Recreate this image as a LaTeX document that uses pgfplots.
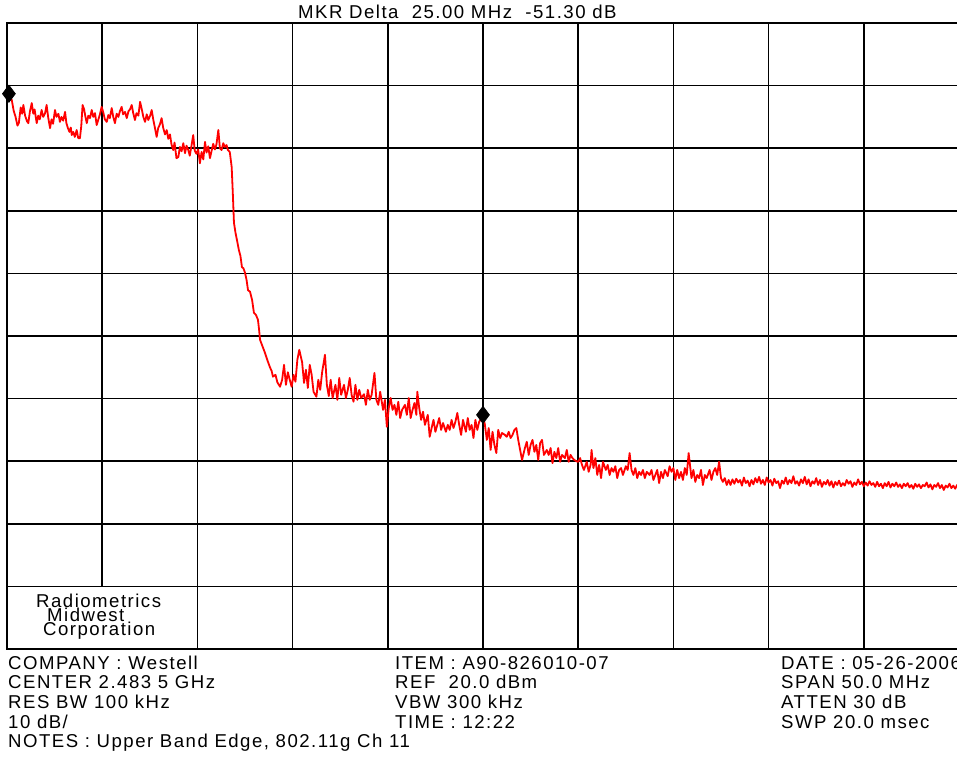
\documentclass[border=0pt]{standalone}
\usepackage{pgfplots}
\pgfplotsset{compat=1.18}
\usepackage{fontspec}
\setmainfont{Liberation Sans}[LetterSpace=8]
\begin{document}
\fontsize{18.6pt}{20pt}\selectfont
\begin{tikzpicture}
\useasboundingbox (0,0) rectangle (957pt,756pt);
\begin{axis}[at={(7pt,107pt)}, anchor=south west, scale only axis,
  width=952pt, height=626pt,
  xmin=0, xmax=50, ymin=-80, ymax=20,
  xtick={0,5,...,50}, ytick={-80,-70,...,20},
  xticklabels={}, yticklabels={},
  major tick length=0pt,
  grid=major, major grid style={black, line width=1.6pt},
  axis line style={black, line width=1.9pt},
  clip=false]
\addplot[red, line width=1.8pt, line join=round, mark=none] coordinates {
(0.1,8.7)(0.18,8.0)(0.25,7.7)(0.35,6.0)(0.45,5.0)(0.55,3.6)(0.62,4.0)(0.72,6.5)(0.8,5.5)(0.86,6.9)(0.95,5.2)(1.05,4.3)(1.12,4.0)(1.2,5.8)(1.3,7.2)(1.38,5.5)(1.45,6.2)(1.56,4.0)(1.64,5.2)(1.72,4.6)(1.82,6.1)(1.9,5.0)(2.0,5.6)(2.08,6.9)(2.16,5.0)(2.26,3.2)(2.34,4.6)(2.42,3.9)(2.52,6.1)(2.6,5.0)(2.7,5.5)(2.78,4.2)(2.86,5.0)(2.95,4.4)(3.05,5.8)(3.12,4.0)(3.2,3.2)(3.28,2.6)(3.35,3.3)(3.4,2.1)(3.48,2.6)(3.56,1.8)(3.66,2.9)(3.74,1.6)(3.83,1.6)(3.9,3.5)(3.97,6.9)
(4.05,6.2)(4.12,5.0)(4.19,4.0)(4.27,5.2)(4.36,4.8)(4.45,6.1)(4.53,5.0)(4.62,5.6)(4.71,3.7)(4.8,4.6)(4.88,5.4)(4.97,6.6)(5.05,5.8)(5.14,4.6)(5.24,4.2)(5.32,5.3)(5.4,4.8)(5.5,6.4)(5.58,5.0)(5.67,4.0)(5.76,5.5)(5.85,5.0)(5.93,5.9)(6.02,6.6)(6.1,5.4)(6.2,5.8)(6.29,4.8)(6.38,5.9)(6.46,6.2)(6.55,6.9)(6.63,5.6)(6.72,4.5)(6.8,5.6)(6.9,5.2)(6.99,7.4)(7.08,6.2)(7.16,5.0)(7.25,4.2)(7.34,5.4)(7.42,4.5)(7.52,5.2)(7.6,6.1)(7.68,4.6)(7.76,3.4)(7.86,1.8)(7.94,3.2)
(8.03,3.8)(8.12,4.8)(8.2,3.3)(8.3,2.2)(8.39,2.9)(8.47,1.5)(8.56,2.2)(8.64,0.6)(8.73,-0.3)(8.8,0.9)(8.9,-1.6)(9.0,-1.4)(9.08,0.2)(9.17,-0.5)(9.26,0.8)(9.35,-0.8)(9.43,0.4)(9.52,-0.3)(9.6,-1.2)(9.7,0.6)(9.78,2.1)(9.86,-0.4)(9.95,-0.9)(10.04,-0.2)(10.13,-2.4)(10.22,-0.6)(10.31,-1.8)(10.4,1.0)(10.48,-0.7)(10.57,0.3)(10.66,-1.6)(10.74,-0.5)(10.83,0.7)(10.92,-0.2)(11.0,0.6)(11.1,2.9)(11.18,0.0)(11.27,-0.3)(11.36,0.8)(11.44,0.2)(11.53,0.5)(11.6,-0.3)(11.7,-0.6)
(11.8,-3.0)(11.86,-7.2)(11.92,-11.9)(12.0,-13.5)(12.08,-14.7)(12.18,-16.3)(12.26,-17.2)(12.34,-19.0)(12.42,-19.2)(12.5,-19.9)(12.58,-21.0)(12.66,-22.7)(12.76,-22.9)(12.87,-24.2)(12.97,-26.3)(13.07,-26.6)(13.18,-27.4)(13.24,-29.0)(13.29,-30.6)(13.4,-31.5)(13.55,-32.7)(13.68,-33.9)(13.81,-35.0)(13.9,-35.6)(13.97,-36.5)(14.1,-36.2)(14.2,-37.4)(14.34,-38.1)
(14.45,-37.0)(14.55,-34.6)(14.65,-37.8)(14.75,-35.8)(14.85,-37.0)(14.95,-38.1)(15.05,-36.2)(15.15,-37.3)(15.25,-33.8)(15.35,-32.2)(15.5,-34.2)(15.6,-37.5)(15.7,-35.4)(15.8,-38.3)(15.9,-34.6)(16.0,-36.2)(16.1,-38.9)(16.25,-39.7)(16.35,-37.0)(16.45,-38.6)(16.55,-35.8)(16.7,-33.0)(16.8,-37.8)(16.9,-39.6)(17.0,-37.0)(17.1,-39.9)(17.25,-37.8)(17.35,-40.2)(17.45,-36.7)(17.55,-39.4)(17.7,-37.8)(17.8,-39.9)(17.9,-38.6)(18.0,-36.7)(18.1,-39.4)(18.2,-40.5)(18.3,-37.8)(18.4,-40.2)(18.5,-38.6)(18.6,-39.9)(18.75,-39.3)(18.85,-41.0)(18.95,-38.6)(19.05,-40.2)(19.15,-39.4)(19.3,-35.9)(19.4,-40.2)(19.5,-41.0)(19.6,-38.9)(19.75,-41.8)(19.85,-40.2)(19.95,-44.5)
(20.05,-41.5)(20.15,-39.9)(20.25,-41.8)(20.35,-41.0)(20.45,-42.6)(20.55,-40.5)(20.65,-43.1)(20.75,-41.8)(20.9,-41.0)(21.0,-42.6)(21.1,-39.9)(21.2,-43.1)(21.3,-41.8)(21.4,-40.7)(21.5,-42.6)(21.55,-38.9)(21.65,-41.5)(21.75,-43.4)(21.85,-42.1)(21.95,-44.2)(22.1,-42.6)(22.2,-46.1)(22.3,-44.7)(22.4,-43.4)(22.5,-45.3)(22.6,-44.2)(22.7,-43.1)(22.8,-45.0)(22.9,-43.9)(23.05,-45.3)(23.15,-44.2)(23.25,-45.0)(23.35,-43.4)(23.45,-44.7)(23.55,-43.7)(23.65,-42.3)(23.75,-44.2)(23.85,-45.8)(23.95,-43.4)(24.1,-45.3)(24.2,-43.1)(24.3,-45.0)(24.4,-44.2)(24.5,-46.3)(24.6,-43.4)(24.7,-45.0)(24.8,-43.7)(24.9,-43.2)(25.0,-42.6)
(25.1,-44.2)(25.2,-46.6)(25.3,-44.7)(25.4,-48.2)(25.5,-45.3)(25.6,-47.4)(25.7,-48.7)(25.8,-45.0)(25.9,-46.3)(26.0,-45.5)(26.15,-45.8)(26.25,-46.1)(26.35,-45.3)(26.45,-46.3)(26.55,-45.8)(26.65,-45.0)(26.75,-44.7)(26.85,-46.6)(26.95,-48.2)(27.05,-49.8)(27.2,-47.9)(27.3,-46.9)(27.4,-49.0)(27.5,-47.4)(27.6,-46.6)(27.7,-48.5)(27.8,-47.4)(27.9,-49.8)(28.0,-47.1)(28.1,-46.6)(28.2,-49.0)(28.35,-48.2)(28.45,-49.0)(28.55,-47.9)(28.65,-50.3)(28.75,-48.5)(28.85,-49.5)(28.95,-47.9)(29.05,-50.1)(29.15,-49.0)(29.3,-49.5)(29.4,-48.2)(29.5,-50.1)(29.6,-49.0)(29.7,-49.5)(29.8,-49.8)(29.9,-50.0)(30.0,-50.1)
(30.1,-49.5)(30.2,-50.6)(30.3,-51.4)(30.45,-50.1)(30.55,-51.7)(30.65,-50.6)(30.7,-48.2)(30.8,-51.1)(30.9,-49.5)(31.0,-52.2)(31.1,-50.6)(31.2,-52.7)(31.3,-50.1)(31.45,-51.4)(31.55,-50.6)(31.65,-52.2)(31.75,-51.1)(31.85,-51.7)(31.95,-50.8)(32.05,-52.7)(32.15,-51.4)(32.25,-51.1)(32.35,-52.2)(32.5,-50.8)(32.6,-51.4)(32.7,-48.7)(32.8,-51.4)(32.9,-52.2)(33.0,-51.1)(33.1,-52.7)(33.2,-51.7)(33.3,-52.2)(33.4,-51.4)(33.5,-52.7)(33.6,-51.7)(33.75,-52.2)(33.85,-51.4)(33.95,-53.0)(34.05,-52.2)(34.15,-51.4)(34.25,-53.5)(34.35,-51.7)(34.45,-52.7)(34.55,-51.4)(34.7,-52.4)(34.8,-50.8)(34.9,-51.7)
(35.0,-51.1)(35.1,-53.0)(35.2,-51.4)(35.3,-52.7)(35.4,-51.7)(35.5,-53.0)(35.6,-51.1)(35.7,-52.2)(35.8,-48.7)(35.95,-52.7)(36.05,-51.4)(36.15,-53.3)(36.25,-52.2)(36.35,-52.7)(36.45,-51.4)(36.55,-53.8)(36.65,-52.2)(36.75,-52.7)(36.9,-51.4)(37.0,-53.0)(37.1,-51.7)(37.2,-51.1)(37.3,-52.2)(37.4,-50.1)(37.5,-52.7)(37.6,-53.3)(37.7,-52.7)(37.8,-53.8)(37.9,-53.0)
(38.0,-53.8)(38.1,-52.9)(38.2,-53.6)(38.3,-52.8)(38.4,-53.4)(38.5,-53.0)(38.6,-53.9)(38.7,-52.6)(38.8,-53.5)(38.9,-53.1)(39.0,-54.0)(39.1,-53.0)(39.2,-53.7)(39.3,-52.7)(39.4,-53.4)(39.5,-52.5)(39.6,-53.6)(39.7,-53.0)(39.8,-53.8)(39.9,-52.6)
(40.0,-53.4)(40.1,-53.0)(40.2,-53.9)(40.3,-52.8)(40.4,-53.5)(40.5,-53.2)(40.6,-54.3)(40.7,-53.1)(40.8,-53.6)(40.9,-52.6)(41.0,-53.7)(41.1,-53.0)(41.2,-53.5)(41.3,-52.4)(41.4,-53.6)(41.5,-53.2)(41.6,-53.9)(41.7,-52.9)(41.8,-53.5)(41.9,-52.5)(42.0,-53.7)(42.1,-52.9)(42.2,-54.0)(42.3,-53.2)(42.4,-53.6)(42.5,-52.7)(42.6,-53.8)(42.7,-53.0)(42.8,-54.1)(42.9,-53.3)(43.0,-53.7)(43.1,-53.0)(43.2,-53.9)(43.3,-53.2)(43.4,-54.2)(43.5,-53.3)(43.6,-53.8)(43.7,-53.1)(43.8,-54.0)(43.9,-53.5)(44.0,-53.9)(44.1,-53.0)(44.2,-53.6)(44.3,-53.2)(44.4,-54.1)(44.5,-53.4)(44.6,-53.8)(44.7,-52.9)(44.8,-53.7)(44.9,-53.3)
(45.0,-54.0)(45.1,-53.4)(45.2,-53.9)(45.3,-53.2)(45.4,-53.8)(45.5,-53.5)(45.6,-54.1)(45.7,-53.3)(45.8,-54.0)(45.9,-53.6)(46.0,-54.3)(46.1,-53.5)(46.2,-54.0)(46.3,-53.3)(46.4,-54.2)(46.5,-53.6)(46.6,-54.0)(46.7,-53.4)(46.8,-54.1)(46.9,-53.7)(47.0,-54.3)(47.1,-53.6)(47.2,-54.0)(47.3,-53.5)(47.4,-54.2)(47.5,-53.8)(47.6,-54.4)(47.7,-53.6)(47.8,-54.1)(47.9,-53.7)(48.0,-54.3)(48.1,-53.8)(48.2,-54.0)(48.3,-53.4)(48.4,-54.2)(48.5,-53.7)(48.6,-54.5)(48.7,-53.8)(48.8,-54.1)(48.9,-53.5)(49.0,-54.3)(49.1,-53.8)(49.2,-54.6)(49.3,-53.9)(49.4,-54.2)(49.5,-53.6)(49.6,-54.3)(49.7,-53.9)(49.8,-54.4)(49.9,-53.8)(50.0,-54.2)
};
\addplot[only marks, mark=diamond*, mark size=8.5pt, black, mark options={line width=0.8pt}] coordinates {(0.1,8.7) (25.0,-42.6)};
\end{axis}
\fill[white] (8.2pt,108pt) rectangle (196.5pt,168.6pt);
\node[anchor=base west, inner sep=0pt] at (298pt,737pt) {MKR Delta\ \ 25.00 MHz\ \ -51.30 dB};
\node[anchor=base west, inner sep=0pt] at (36pt,149pt) {Radiometrics};
\node[anchor=base west, inner sep=0pt] at (47pt,135pt) {Midwest};
\node[anchor=base west, inner sep=0pt] at (43pt,121pt) {Corporation};
\node[anchor=base west, inner sep=0pt] at (8pt,87pt) {COMPANY : Westell};
\node[anchor=base west, inner sep=0pt] at (8pt,68pt) {CENTER 2.483 5 GHz};
\node[anchor=base west, inner sep=0pt] at (8pt,48pt) {RES BW 100 kHz};
\node[anchor=base west, inner sep=0pt] at (8pt,28pt) {10 dB/};
\node[anchor=base west, inner sep=0pt] at (8pt,9pt) {NOTES : Upper Band Edge, 802.11g Ch 11};
\node[anchor=base west, inner sep=0pt] at (395pt,87pt) {ITEM : A90-826010-07};
\node[anchor=base west, inner sep=0pt] at (395pt,68pt) {REF\ \ 20.0 dBm};
\node[anchor=base west, inner sep=0pt] at (395pt,48pt) {VBW 300 kHz};
\node[anchor=base west, inner sep=0pt] at (395pt,28pt) {TIME : 12:22};
\node[anchor=base west, inner sep=0pt] at (781pt,87pt) {DATE : 05-26-2006};
\node[anchor=base west, inner sep=0pt] at (781pt,68pt) {SPAN 50.0 MHz};
\node[anchor=base west, inner sep=0pt] at (781pt,48pt) {ATTEN 30 dB};
\node[anchor=base west, inner sep=0pt] at (781pt,28pt) {SWP 20.0 msec};
\end{tikzpicture}
\end{document}
